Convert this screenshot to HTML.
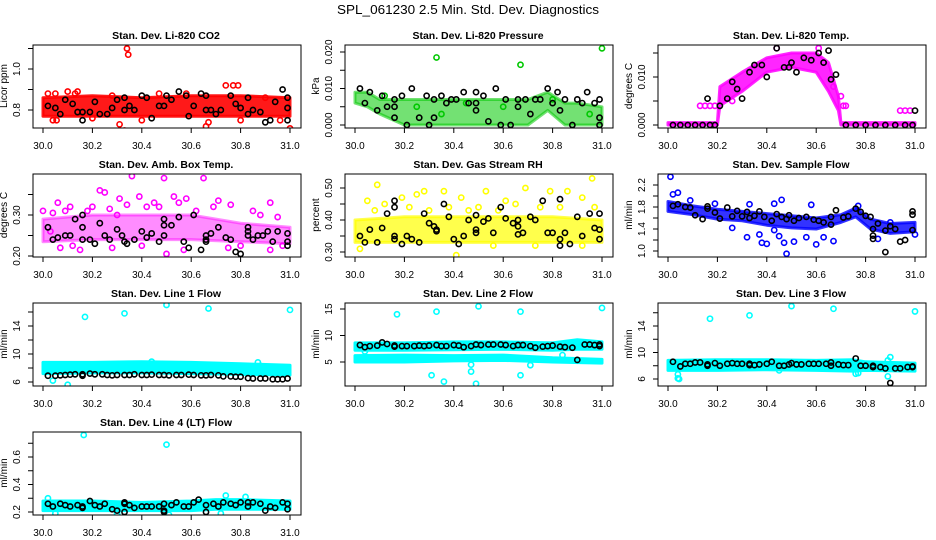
<!DOCTYPE html>
<html><head><meta charset="utf-8"><style>
html,body{margin:0;padding:0;background:#fff;}
svg{display:block;font-family:"Liberation Sans",sans-serif;}
</style></head><body>
<svg id="chart" width="936" height="540" viewBox="0 0 936 540" xmlns="http://www.w3.org/2000/svg">
<text x="468" y="14" text-anchor="middle" font-size="13" fill="#000" textLength="262" lengthAdjust="spacingAndGlyphs">SPL_061230  2.5 Min. Std. Dev. Diagnostics</text>
</svg>
<script>
// ---------- data ----------
const xTicks = [30.0, 30.2, 30.4, 30.6, 30.8, 31.0];
const xTickLabels = ["30.0", "30.2", "30.4", "30.6", "30.8", "31.0"];

const p1Band = {xs:[30.0,30.2,30.4,30.6,30.8,31.0], lo:[0.77,0.77,0.77,0.77,0.77,0.77], hi:[0.86,0.87,0.86,0.87,0.87,0.86]};
const p1Pts = [[30.34,1.10],[30.345,1.07],[30.33,0.70],[30.31,0.73],[30.02,0.88],[30.05,0.88],[30.10,0.89],[30.14,0.89],[30.04,0.75],[30.055,0.75],[30.74,0.92],[30.77,0.92],[30.79,0.92],[30.66,0.72],[30.67,0.74],[30.80,0.75],[31.0,0.71],[30.96,0.75],[30.2,0.76],[30.4,0.75],[30.47,0.88],[30.28,0.87],[30.13,0.88],[30.58,0.88],[30.9,0.86]];
const p1Blk = [[30.02,0.82],[30.05,0.81],[30.07,0.78],[30.09,0.85],[30.12,0.83],[30.14,0.79],[30.16,0.75],[30.16,0.79],[30.19,0.79],[30.21,0.84],[30.23,0.78],[30.26,0.78],[30.28,0.81],[30.30,0.85],[30.33,0.86],[30.33,0.80],[30.35,0.82],[30.37,0.80],[30.40,0.87],[30.42,0.86],[30.44,0.76],[30.47,0.82],[30.49,0.82],[30.50,0.87],[30.52,0.85],[30.55,0.89],[30.58,0.87],[30.59,0.77],[30.61,0.82],[30.64,0.88],[30.66,0.87],[30.66,0.80],[30.68,0.80],[30.70,0.78],[30.72,0.80],[30.76,0.87],[30.78,0.83],[30.80,0.81],[30.83,0.78],[30.83,0.86],[30.85,0.80],[30.88,0.79],[30.90,0.74],[30.92,0.75],[30.94,0.84],[30.97,0.90],[30.99,0.86],[30.99,0.81],[30.99,0.75]];

const p2Band = {xs:[30.0,30.05,30.1,30.2,30.3,30.4,30.5,30.6,30.7,30.78,30.85,30.9,31.0], lo:[0.006,0.005,0.003,0,0,0,0,0,0,0.004,0,0,0], hi:[0.009,0.009,0.007,0.007,0.007,0.007,0.007,0.007,0.007,0.009,0.006,0.006,0.005]};
const p2Pts = [[30.33,0.0185],[30.67,0.0165],[31.0,0.021],[30.12,0.008],[30.25,0.005],[30.45,0.006],[30.6,0.005],[30.8,0.007],[30.95,0.003],[30.35,0.003]];
const p2Blk = [[30.02,0.010],[30.04,0.006],[30.06,0.009],[30.09,0.004],[30.11,0.008],[30.13,0.005],[30.16,0.007],[30.16,0.005],[30.16,0.002],[30.19,0.008],[30.21,0.000],[30.23,0.010],[30.26,0.002],[30.29,0.008],[30.30,0.000],[30.32,0.007],[30.32,0.002],[30.35,0.008],[30.37,0.006],[30.39,0.007],[30.41,0.007],[30.44,0.009],[30.46,0.006],[30.49,0.009],[30.49,0.006],[30.49,0.004],[30.52,0.008],[30.54,0.001],[30.57,0.010],[30.59,0.000],[30.61,0.007],[30.63,0.000],[30.66,0.007],[30.66,0.005],[30.69,0.007],[30.71,0.003],[30.73,0.007],[30.75,0.007],[30.78,0.010],[30.80,0.006],[30.82,0.009],[30.83,0.004],[30.85,0.007],[30.88,0.000],[30.90,0.007],[30.92,0.006],[30.94,0.009],[30.97,0.006],[30.99,0.007],[30.99,0.002],[30.99,0.000]];

const p3Band = {xs:[30.0,30.2,30.21,30.3,30.4,30.5,30.6,30.65,30.69,30.7,31.0], lo:[0,0,0.004,0.007,0.011,0.012,0.011,0.007,0.003,0,0], hi:[0.0005,0.0005,0.008,0.011,0.014,0.015,0.015,0.013,0.006,0.0005,0.0005]};
const p3Pts = [[30.13,0.004],[30.15,0.004],[30.17,0.004],[30.19,0.004],[30.71,0.004],[30.72,0.004],[30.94,0.003],[30.96,0.003],[30.98,0.003],[30.44,0.016],[30.61,0.016],[30.26,0.005],[30.67,0.008],[30.7,0.006]];
const p3Blk = [[30.02,0],[30.05,0],[30.08,0],[30.11,0],[30.14,0],[30.17,0],[30.19,0],[30.16,0.0055],[30.21,0.004],[30.24,0.0055],[30.26,0.009],[30.28,0.0075],[30.30,0.0055],[30.33,0.011],[30.35,0.0125],[30.38,0.0125],[30.40,0.010],[30.44,0.016],[30.47,0.012],[30.49,0.012],[30.50,0.013],[30.52,0.011],[30.55,0.014],[30.58,0.0135],[30.61,0.015],[30.63,0.013],[30.65,0.0155],[30.66,0.0095],[30.68,0.0105],[30.72,0],[30.76,0],[30.80,0],[30.84,0],[30.88,0],[30.92,0],[30.96,0],[30.99,0],[31.0,0.003]];

const p4Band = {xs:[30.0,30.2,30.4,30.6,30.8,31.0], lo:[0.235,0.24,0.24,0.24,0.235,0.23], hi:[0.29,0.30,0.30,0.30,0.28,0.27]};
const p4Pts = [[30.36,0.395],[30.49,0.39],[30.65,0.39],[30.23,0.36],[30.25,0.355],[30.0,0.31],[30.06,0.33],[30.11,0.32],[30.18,0.31],[30.31,0.34],[30.39,0.345],[30.45,0.33],[30.53,0.345],[30.58,0.34],[30.71,0.335],[30.76,0.325],[30.92,0.33],[30.07,0.22],[30.15,0.215],[30.28,0.22],[30.5,0.205],[30.57,0.215],[30.92,0.215],[30.97,0.225],[30.03,0.26],[30.42,0.32],[30.62,0.31],[30.85,0.31],[30.95,0.295],[30.2,0.32],[30.3,0.3],[30.8,0.225],[30.04,0.305],[30.09,0.31],[30.27,0.315],[30.34,0.325],[30.47,0.32],[30.55,0.33],[30.69,0.32],[30.88,0.30],[30.12,0.225],[30.4,0.225],[30.75,0.22]];
const p4Blk = [[30.02,0.27],[30.04,0.24],[30.06,0.245],[30.09,0.25],[30.11,0.25],[30.13,0.29],[30.16,0.30],[30.16,0.27],[30.16,0.24],[30.19,0.24],[30.21,0.23],[30.23,0.28],[30.25,0.25],[30.27,0.24],[30.30,0.265],[30.32,0.25],[30.33,0.235],[30.34,0.23],[30.37,0.24],[30.40,0.26],[30.42,0.245],[30.44,0.255],[30.47,0.235],[30.49,0.29],[30.49,0.275],[30.49,0.25],[30.52,0.275],[30.55,0.295],[30.57,0.235],[30.59,0.22],[30.61,0.30],[30.64,0.215],[30.66,0.25],[30.66,0.24],[30.66,0.235],[30.68,0.255],[30.71,0.27],[30.74,0.245],[30.76,0.24],[30.78,0.21],[30.80,0.205],[30.83,0.27],[30.83,0.26],[30.83,0.25],[30.85,0.24],[30.87,0.25],[30.89,0.25],[30.91,0.26],[30.93,0.235],[30.95,0.26],[30.99,0.255],[30.99,0.235],[30.99,0.225]];

const p5Band = {xs:[30.0,30.2,30.4,30.6,30.8,31.0], lo:[0.33,0.33,0.33,0.33,0.33,0.33], hi:[0.40,0.41,0.41,0.41,0.41,0.40]};
const p5Pts = [[30.09,0.51],[30.96,0.53],[30.05,0.46],[30.12,0.45],[30.19,0.47],[30.25,0.48],[30.28,0.49],[30.36,0.49],[30.43,0.47],[30.53,0.49],[30.61,0.46],[30.69,0.50],[30.79,0.49],[30.86,0.49],[30.92,0.47],[30.02,0.31],[30.41,0.29],[30.56,0.32],[30.73,0.32],[30.92,0.32],[30.3,0.43],[30.5,0.44],[30.65,0.45],[30.75,0.44],[30.08,0.43],[30.22,0.44],[30.38,0.44],[30.46,0.43],[30.58,0.43],[30.83,0.44],[30.97,0.44]];
const p5Blk = [[30.02,0.35],[30.04,0.33],[30.06,0.37],[30.09,0.33],[30.11,0.375],[30.13,0.42],[30.16,0.46],[30.16,0.44],[30.16,0.35],[30.16,0.34],[30.19,0.325],[30.21,0.35],[30.23,0.34],[30.26,0.33],[30.28,0.42],[30.30,0.39],[30.32,0.38],[30.33,0.37],[30.33,0.365],[30.36,0.45],[30.38,0.41],[30.40,0.34],[30.42,0.325],[30.44,0.35],[30.46,0.40],[30.49,0.415],[30.49,0.36],[30.49,0.37],[30.52,0.395],[30.54,0.405],[30.56,0.36],[30.59,0.44],[30.61,0.405],[30.64,0.39],[30.66,0.40],[30.66,0.38],[30.66,0.355],[30.68,0.36],[30.71,0.41],[30.73,0.40],[30.76,0.46],[30.78,0.36],[30.80,0.36],[30.83,0.465],[30.83,0.34],[30.83,0.32],[30.85,0.36],[30.87,0.325],[30.90,0.41],[30.92,0.35],[30.95,0.42],[30.97,0.375],[30.99,0.37],[30.99,0.42],[30.99,0.34]];

const p6Band = {xs:[30.0,30.1,30.2,30.3,30.4,30.5,30.6,30.7,30.76,30.82,30.9,31.0], lo:[1.72,1.66,1.58,1.55,1.47,1.42,1.40,1.52,1.62,1.40,1.32,1.35], hi:[1.90,1.82,1.76,1.72,1.68,1.64,1.60,1.66,1.78,1.58,1.50,1.52]};
const p6Pts = [[30.01,2.35],[30.02,2.03],[30.04,2.06],[30.09,1.92],[30.46,1.93],[30.19,1.86],[30.33,1.85],[30.43,1.86],[30.58,1.84],[30.77,1.82],[30.26,1.42],[30.32,1.25],[30.37,1.30],[30.38,1.15],[30.40,1.13],[30.43,1.38],[30.45,1.27],[30.47,1.15],[30.48,0.95],[30.51,1.17],[30.56,1.25],[30.60,1.12],[30.63,1.25],[30.67,1.18],[30.85,1.22],[31.0,1.30],[30.9,1.52]];
const p6Blk = [[30.02,1.82],[30.04,1.85],[30.07,1.80],[30.09,1.79],[30.11,1.65],[30.14,1.58],[30.16,1.81],[30.16,1.77],[30.19,1.70],[30.21,1.59],[30.24,1.79],[30.26,1.63],[30.28,1.73],[30.30,1.63],[30.32,1.71],[30.33,1.60],[30.35,1.64],[30.37,1.72],[30.39,1.62],[30.42,1.55],[30.44,1.67],[30.46,1.62],[30.48,1.58],[30.49,1.65],[30.51,1.55],[30.53,1.60],[30.56,1.62],[30.59,1.57],[30.61,1.55],[30.63,1.52],[30.66,1.62],[30.66,1.48],[30.68,1.74],[30.71,1.61],[30.73,1.63],[30.76,1.77],[30.78,1.71],[30.80,1.64],[30.82,1.62],[30.83,1.40],[30.83,1.28],[30.83,1.22],[30.85,1.50],[30.88,1.37],[30.88,0.98],[30.90,1.45],[30.92,1.40],[30.94,1.17],[30.96,1.20],[30.99,1.72],[30.99,1.66],[30.99,1.38]];

const p7Band = {xs:[30.0,30.2,30.4,30.6,30.8,31.0], lo:[7.2,7.3,7.3,7.2,7.1,7.0], hi:[8.8,8.8,8.9,8.8,8.6,8.4]};
const p7Pts = [[30.17,15.3],[30.33,15.8],[30.5,17.0],[30.67,16.5],[31.0,16.3],[30.04,6.2],[30.1,5.6],[30.87,8.8],[30.88,8.3],[30.44,8.9]];
const p7Blk = [[30.02,6.9],[30.05,6.9],[30.07,6.95],[30.09,7.0],[30.11,7.05],[30.13,7.1],[30.16,7.1],[30.16,6.9],[30.19,7.2],[30.21,7.1],[30.24,7.1],[30.26,7.0],[30.28,6.95],[30.30,7.0],[30.33,7.0],[30.35,7.0],[30.37,7.1],[30.40,7.0],[30.42,7.0],[30.44,7.05],[30.47,7.0],[30.49,7.0],[30.51,6.95],[30.54,7.0],[30.56,7.0],[30.59,7.05],[30.61,7.0],[30.64,6.95],[30.66,6.95],[30.68,7.0],[30.71,6.95],[30.73,6.8],[30.76,6.8],[30.78,6.75],[30.80,6.75],[30.83,6.55],[30.85,6.5],[30.88,6.5],[30.90,6.5],[30.93,6.4],[30.95,6.4],[30.97,6.4],[30.99,6.5]];

const p8BandA = {xs:[30.0,30.2,30.4,30.6,30.8,30.9,31.0], lo:[7.2,7.2,7.3,7.4,7.2,7.4,7.4], hi:[8.6,8.6,8.8,8.8,8.6,9.2,8.8]};
const p8BandB = {xs:[30.0,30.2,30.4,30.6,30.8,31.0], lo:[5.0,5.0,5.2,5.3,5.0,4.8], hi:[6.2,6.3,6.2,6.3,5.8,5.5]};
const p8Pts = [[30.17,14.0],[30.33,14.5],[30.5,15.5],[30.67,14.5],[31.0,15.2],[30.31,2.5],[30.36,1.3],[30.47,3.2],[30.49,0.9],[30.67,2.5],[30.71,4.4],[30.47,4.5],[30.84,6.3],[30.04,7.0]];
const p8Blk = [[30.02,8.2],[30.04,7.8],[30.06,8.0],[30.09,8.1],[30.11,8.7],[30.13,8.4],[30.16,8.1],[30.16,7.9],[30.19,8.0],[30.21,8.0],[30.24,8.0],[30.26,8.1],[30.28,8.0],[30.30,8.1],[30.33,8.2],[30.35,8.0],[30.37,8.0],[30.40,8.2],[30.42,8.1],[30.44,7.8],[30.47,8.0],[30.49,8.3],[30.51,8.2],[30.54,8.3],[30.56,8.3],[30.59,8.3],[30.61,8.2],[30.64,8.0],[30.66,8.2],[30.68,8.2],[30.71,8.0],[30.73,7.7],[30.76,7.9],[30.78,8.0],[30.80,8.1],[30.83,7.9],[30.85,7.8],[30.88,7.7],[30.90,5.4],[30.93,8.3],[30.95,8.3],[30.97,8.2],[30.99,8.3],[30.99,8.0]];

const p9Band = {xs:[30.0,30.2,30.4,30.6,30.75,30.8,31.0], lo:[7.3,7.3,7.4,7.3,7.2,7.3,7.2], hi:[8.8,8.9,8.9,8.8,8.9,8.6,8.4]};
const p9Pts = [[30.17,15.1],[30.33,15.6],[30.5,17.0],[30.67,16.6],[31.0,16.2],[30.04,6.1],[30.045,6.0],[30.04,6.7],[30.76,6.8],[30.77,6.9],[30.89,6.4],[30.9,9.3],[30.89,8.8],[30.45,7.3]];
const p9Blk = [[30.02,8.6],[30.05,7.9],[30.07,8.3],[30.09,8.3],[30.11,8.5],[30.13,8.5],[30.16,8.2],[30.16,8.0],[30.19,8.4],[30.21,8.0],[30.24,8.3],[30.26,8.4],[30.28,8.3],[30.30,8.3],[30.33,8.3],[30.33,8.1],[30.35,8.1],[30.37,8.2],[30.40,8.3],[30.42,8.6],[30.45,8.0],[30.47,8.0],[30.49,8.2],[30.50,8.4],[30.52,8.2],[30.54,8.2],[30.57,8.3],[30.59,8.3],[30.61,8.3],[30.64,8.3],[30.66,8.5],[30.66,8.0],[30.69,8.2],[30.71,8.1],[30.73,8.1],[30.76,9.1],[30.78,8.0],[30.80,8.0],[30.83,8.0],[30.83,7.8],[30.86,7.8],[30.88,7.6],[30.90,5.4],[30.92,7.6],[30.94,7.6],[30.97,7.8],[30.99,7.8],[30.99,7.9]];

const p10Band = {xs:[30.0,30.2,30.4,30.6,30.7,30.8,31.0], lo:[0.21,0.21,0.21,0.21,0.22,0.22,0.22], hi:[0.28,0.28,0.27,0.28,0.29,0.29,0.28]};
const p10Pts = [[30.165,0.76],[30.5,0.69],[30.74,0.32],[30.82,0.31],[30.51,0.18],[30.3,0.19],[30.05,0.19],[30.72,0.19],[30.02,0.30]];
const p10Blk = [[30.02,0.26],[30.04,0.24],[30.07,0.26],[30.09,0.25],[30.11,0.24],[30.14,0.25],[30.16,0.23],[30.16,0.24],[30.19,0.28],[30.21,0.25],[30.23,0.24],[30.25,0.26],[30.28,0.22],[30.30,0.21],[30.33,0.27],[30.33,0.26],[30.33,0.20],[30.35,0.25],[30.37,0.23],[30.40,0.24],[30.42,0.24],[30.44,0.24],[30.47,0.24],[30.49,0.26],[30.49,0.21],[30.49,0.20],[30.52,0.25],[30.54,0.27],[30.57,0.24],[30.59,0.24],[30.61,0.27],[30.63,0.29],[30.66,0.25],[30.66,0.20],[30.69,0.26],[30.71,0.24],[30.73,0.27],[30.76,0.26],[30.78,0.25],[30.80,0.27],[30.83,0.27],[30.83,0.24],[30.85,0.27],[30.88,0.26],[30.90,0.21],[30.92,0.24],[30.94,0.23],[30.97,0.27],[30.99,0.26],[30.99,0.22]];

// ---------- panels ----------
const panels = [
 {name:"co2",title:"Stan. Dev. Li-820 CO2",yl:"Licor ppm",col:0,row:0,c:"#ff0000",op:0.9,va:0.8,pa:65,vb:1.0,pb:24,ticks:[0.8,0.9,1.0,1.1],labs:["0.8","","1.0",""],bands:[p1Band],pts:p1Pts,blk:p1Blk},
 {name:"pressure",title:"Stan. Dev. Li-820 Pressure",yl:"kPa",col:1,row:0,c:"#00c800",op:0.55,va:0,pa:80,vb:0.02,pb:7,ticks:[0,0.005,0.01,0.015,0.02],labs:["0.000","","0.010","","0.020"],bands:[p2Band],pts:p2Pts,blk:p2Blk},
 {name:"temp",title:"Stan. Dev. Li-820 Temp.",yl:"degrees C",col:2,row:0,c:"#ff00ff",op:0.85,va:0,pa:80,vb:0.01,pb:32,ticks:[0,0.005,0.01,0.015],labs:["0.000","","0.010",""],bands:[p3Band],pts:p3Pts,blk:p3Blk},
 {name:"amb-box-temp",title:"Stan. Dev. Amb. Box Temp.",yl:"degrees C",col:0,row:1,c:"#ff00ff",op:0.45,va:0.2,pa:82,vb:0.3,pb:41,ticks:[0.2,0.25,0.3,0.35],labs:["0.20","","0.30",""],bands:[p4Band],pts:p4Pts,blk:p4Blk},
 {name:"gas-stream-rh",title:"Stan. Dev. Gas Stream RH",yl:"percent",col:1,row:1,c:"#ffff00",op:0.7,va:0.3,pa:78,vb:0.5,pb:14,ticks:[0.3,0.35,0.4,0.45,0.5],labs:["0.30","","0.40","","0.50"],bands:[p5Band],pts:p5Pts,blk:p5Blk},
 {name:"sample-flow",title:"Stan. Dev. Sample Flow",yl:"ml/min",col:2,row:1,c:"#0000ff",op:0.8,va:1.0,pa:77,vb:2.2,pb:11,ticks:[1.0,1.2,1.4,1.6,1.8,2.0,2.2],labs:["1.0","","1.4","","1.8","","2.2"],bands:[p6Band],pts:p6Pts,blk:p6Blk},
 {name:"line1-flow",title:"Stan. Dev. Line 1 Flow",yl:"ml/min",col:0,row:2,c:"#00ffff",op:1,va:6,pa:79,vb:14,pb:23,ticks:[6,8,10,12,14,16],labs:["6","","10","","14",""],bands:[p7Band],pts:p7Pts,blk:p7Blk},
 {name:"line2-flow",title:"Stan. Dev. Line 2 Flow",yl:"ml/min",col:1,row:2,c:"#00ffff",op:1,va:5,pa:59,vb:15,pb:6,ticks:[5,10,15],labs:["5","10","15"],bands:[p8BandA,p8BandB],pts:p8Pts,blk:p8Blk},
 {name:"line3-flow",title:"Stan. Dev. Line 3 Flow",yl:"ml/min",col:2,row:2,c:"#00ffff",op:1,va:6,pa:76,vb:14,pb:23,ticks:[6,8,10,12,14,16],labs:["6","","10","","14",""],bands:[p9Band],pts:p9Pts,blk:p9Blk},
 {name:"line4-flow",title:"Stan. Dev. Line 4 (LT) Flow",yl:"ml/min",col:0,row:3,c:"#00ffff",op:1,va:0.2,pa:80,vb:0.6,pb:25,ticks:[0.2,0.3,0.4,0.5,0.6,0.7],labs:["0.2","","0.4","","0.6",""],bands:[p10Band],pts:p10Pts,blk:p10Blk}
];
const colX0 = [43, 355, 668];
const rowTop = [45, 174, 303, 432];
const NS = "http://www.w3.org/2000/svg";
const svg = document.getElementById("chart");
function mk(tag, attrs, parent){const e=document.createElementNS(NS,tag);for(const k in attrs)e.setAttribute(k,attrs[k]);(parent||svg).appendChild(e);return e;}

panels.forEach(p=>{
  const X0 = colX0[p.col], top = rowTop[p.row];
  const xS = v => X0 + (v-30)*247;
  const yS = v => top + p.pa + (v-p.va)*(p.pb-p.pa)/(p.vb-p.va);
  const g = mk("g",{});
  
  
  const cp = mk("clipPath",{id:"cp-"+p.name},g);
  mk("rect",{x:X0-10,y:top,width:268,height:83},cp);
  const plot = mk("g",{"clip-path":"url(#cp-"+p.name+")"},g);
  p.bands.forEach(b=>{
    let d="";
    b.xs.forEach((x,i)=>{d+=(i?"L":"M")+xS(x).toFixed(1)+","+yS(b.hi[i]).toFixed(1);});
    for(let i=b.xs.length-1;i>=0;i--) d+="L"+xS(b.xs[i]).toFixed(1)+","+yS(b.lo[i]).toFixed(1);
    const pa = mk("path",{d:d+"Z",fill:p.c,"fill-opacity":p.op,stroke:p.c,"stroke-opacity":p.op,"stroke-width":3,"stroke-linejoin":"round"},plot);
    
    
  });
  p.pts.forEach(pt=>{
    const c = mk("circle",{cx:xS(pt[0]),cy:yS(pt[1]),r:2.6,fill:"none",stroke:p.c,"stroke-width":1.6},plot);
    
    
  });
  p.blk.forEach(pt=>{
    const c = mk("circle",{cx:xS(pt[0]),cy:yS(pt[1]),r:2.6,fill:"none",stroke:"#000","stroke-width":1.6},plot);
    
    
  });
  const box = mk("rect",{x:X0-10,y:top,width:268,height:83,fill:"none",stroke:"#000","stroke-width":1},g);
  
  
  mk("line",{x1:xS(30),x2:xS(31),y1:top+83,y2:top+83,stroke:"#000"},g);
  xTicks.forEach((t,i)=>{
    mk("line",{x1:xS(t),x2:xS(t),y1:top+83,y2:top+88,stroke:"#000"},g);
    const tx = mk("text",{x:xS(t),y:top+104,"text-anchor":"middle","font-size":10},g);
    tx.textContent = xTickLabels[i];
    
    
  });
  const ax = X0-10;
  mk("line",{x1:ax,x2:ax,y1:yS(p.ticks[0]),y2:yS(p.ticks[p.ticks.length-1]),stroke:"#000"},g);
  p.ticks.forEach((t,i)=>{
    const y=yS(t);
    mk("line",{x1:ax-5,x2:ax,y1:y,y2:y,stroke:"#000"},g);
    if(p.labs[i]){
      const tx = mk("text",{x:ax-13,y:y,"text-anchor":"middle","font-size":10,transform:"rotate(-90 "+(ax-13)+" "+y+")"},g);
      tx.textContent = p.labs[i];
      
      
    }
  });
  const yl = mk("text",{x:ax-26,y:top+41,"text-anchor":"middle","font-size":10,transform:"rotate(-90 "+(ax-26)+" "+(top+41)+")"},g);
  yl.textContent = p.yl;
  
  
  const ti = mk("text",{x:X0+123,y:top-6,"text-anchor":"middle","font-size":10.5,"font-weight":"bold"},g);
  ti.textContent = p.title;
  
  
});
</script>
</body></html>
